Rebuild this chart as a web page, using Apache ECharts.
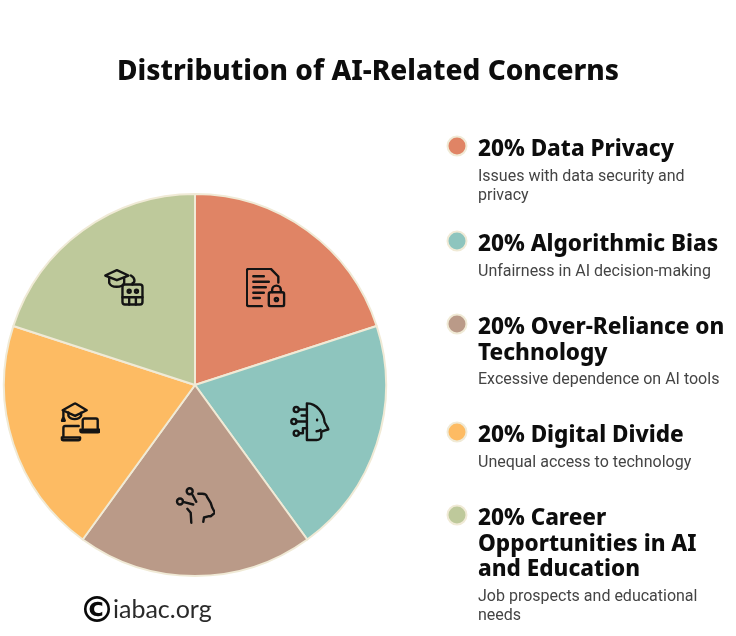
<!DOCTYPE html>
<html>
<head>
<meta charset="utf-8">
<style>
  html, body { margin: 0; padding: 0; background: #fff; }
  #chart { width: 736px; height: 636px; }
</style>
<script src="https://cdn.jsdelivr.net/npm/echarts@6/dist/echarts.min.js"></script>
</head>
<body>
<div id="chart"></div>
<script>
const chartTitle = 'Distribution of AI-Related Concerns';
const categories = ['Data Privacy', 'Algorithmic Bias', 'Over-Reliance on Technology', 'Digital Divide', 'Career Opportunities in AI and Education'];
const shares = [20, 20, 20, 20, 20];
const colors = ['#E08465', '#8EC5BE', '#BA9A88', '#FDBB63', '#BEC99B'];
const headings = ['20% Data Privacy', '20% Algorithmic Bias', '20% Over-Reliance on\nTechnology', '20% Digital Divide', '20% Career\nOpportunities in AI\nand Education'];
const descriptions = ['Issues with data security and\nprivacy', 'Unfairness in AI decision-making', 'Excessive dependence on AI tools', 'Unequal access to technology', 'Job prospects and educational\nneeds'];

// legend rows, y of the first line of each block
const headingY = [148, 243, 326, 434, 517];
const descY = [175, 270, 378, 461, 595];

const headFont = '"Noto Sans", sans-serif';
const cream = '#F0EAD6';

// icons, 40x40 box
const iconPaths = [
  '<path d="M16 38.7H3a2 2 0 0 1-2-2V3.3a2 2 0 0 1 2-2h22l7.500 7.700V15"/><path d="M7.500 8.700H18M7.500 14.300H23M7.500 19.700H20M7.500 25.300H18M7.500 30.500H14"/><rect x="23" y="24.700" width="15.300" height="14" rx="2"/><path d="M26.300 24.500v-2a4.300 4.300 0 0 1 8.700 0v2"/><circle cx="30.600" cy="32" r="1.600"/>',
  '<path d="M17.300 1v36.700H27c3 0 4.700-2 4.700-4v-4.400L39 27 35 20c-.5-9-8-19-17.700-19z"/><circle cx="6.700" cy="7.300" r="2.600"/><circle cx="4.300" cy="19.300" r="2.600"/><circle cx="6.700" cy="31" r="2.600"/><path d="M9.300 7.300h8M12 13.300h5.300M7 19.300h10.300M9.300 31h4v-5h4"/><path d="M27.500 17.500v.5M27 29c1.500 0 3-.5 4-1.500"/>',
  '<circle cx="14.700" cy="5.700" r="3"/><circle cx="5" cy="16" r="3"/><path d="M17.300 9l4 7.300M8 16.300l10.300 2.700M12.300 23.300l3.400 4 .6 10"/><path d="M23.300 8.300h4c3 0 4 .5 4.700 3l3.700 6 1.600 5 2.700 5-4.300 3.400H34l-5 1.300-.7 4.300"/>',
  '<path d="M2.300 8L14.700 1l11.600 7-11.600 5.700z"/><path d="M8 10.300v3.200c2 4.500 10.500 4.500 12.700 0V10.500"/><path d="M3 8.700V15M1.600 18.500L3 15l1.400 3.500z"/><path d="M22.300 26V18a1.700 1.700 0 0 1 1.700-1.700h11.600a1.700 1.700 0 0 1 1.700 1.700v8.500"/><path d="M20 27.500h19v1a1.500 1.500 0 0 1-1.500 1.500h-16a1.500 1.500 0 0 1-1.500-1.500z"/><path d="M3 35V25.400a1.700 1.700 0 0 1 1.700-1.700h13.600"/><path d="M1.300 35.300h18.400v1a1.700 1.700 0 0 1-1.700 1.700H3a1.700 1.700 0 0 1-1.700-1.700z"/>',
  '<path d="M1 8l11.700-5.300L24.300 8l-11.600 4.700z"/><path d="M5 10.300v5c2 5.300 13 5.300 15 0v-4.800"/><rect x="18.300" y="17" width="20" height="20" rx="2.500"/><path d="M18.300 29.700h20M25 29.700V37M31.700 29.700V37"/><circle cx="25" cy="23.700" r="1.500"/><circle cx="32.300" cy="23.700" r="1.500"/><path d="M28.300 17v-1.300c2.500-.5 3.200-5 -1.600-7.700"/>'
];

function iconUrl(body) {
  const svg = '<svg xmlns="http://www.w3.org/2000/svg" width="40" height="40" viewBox="0 0 40 40" fill="none" stroke="#141414" stroke-width="2.400" stroke-linecap="round" stroke-linejoin="round">' + body + '</svg>';
  return 'data:image/svg+xml;charset=utf-8,' + encodeURIComponent(svg);
}

const iconRich = {};
iconPaths.forEach((body, i) => {
  iconRich['i' + i] = { width: 40, height: 40, backgroundColor: { image: iconUrl(body) } };
});

const pieData = categories.map((name, i) => ({ name, value: shares[i], itemStyle: { color: colors[i] } }));

const legendGraphics = [];
headings.forEach((text, i) => {
  legendGraphics.push({
    type: 'circle', silent: true,
    shape: { cx: 457, cy: headingY[i] - 2, r: 9.500 },
    style: { fill: colors[i], stroke: cream, lineWidth: 2 }
  });
  legendGraphics.push({
    type: 'text', silent: true, x: 478, y: headingY[i] - 11,
    style: { text, fill: '#0d0d0d', font: '800 22.500px ' + headFont, lineHeight: 25.500, textVerticalAlign: 'top' }
  });
  legendGraphics.push({
    type: 'text', silent: true, x: 478, y: descY[i] - 8,
    style: { text: descriptions[i], fill: '#444444', font: '16px Roboto, sans-serif', lineHeight: 19, textVerticalAlign: 'top' }
  });
});

const chart = echarts.init(document.getElementById('chart'), null, { renderer: 'canvas' });
chart.setOption({
  animation: false,
  backgroundColor: '#ffffff',
  title: {
    text: chartTitle,
    left: 363, top: 53, textAlign: 'center',
    textStyle: { fontFamily: headFont, fontWeight: 800, fontSize: 28, color: '#0d0d0d' }
  },
  series: [
    {
      type: 'pie',
      center: [195, 385],
      radius: [0, 191],
      startAngle: 90,
      clockwise: true,
      silent: true,
      label: { show: false },
      labelLine: { show: false },
      itemStyle: { borderColor: cream, borderWidth: 2 },
      data: pieData
    },
    {
      // transparent ring: its midline carries the icons
      type: 'pie',
      center: [195, 385],
      radius: [44, 191],
      startAngle: 90,
      clockwise: true,
      silent: true,
      labelLine: { show: false },
      itemStyle: { color: 'transparent', borderWidth: 0 },
      label: {
        show: true,
        position: 'inside',
        formatter: (p) => '{i' + p.dataIndex + '|}',
        rich: iconRich
      },
      data: categories.map((name, i) => ({ name, value: shares[i] }))
    }
  ],
  graphic: legendGraphics.concat([
    { type: 'text', silent: true, x: 97, y: 612.500, style: { text: '©', fill: '#0a0a0a', font: 'bold 36px "DejaVu Sans"', textAlign: 'center', textVerticalAlign: 'middle' } },
    { type: 'text', silent: true, x: 113, y: 610, style: { text: 'iabac.org', fill: '#2a2a2a', font: '400 25px Lato, sans-serif', textVerticalAlign: 'middle' } }
  ])
});
window.onresize = () => { chart.resize(); };
</script>
</body>
</html>
